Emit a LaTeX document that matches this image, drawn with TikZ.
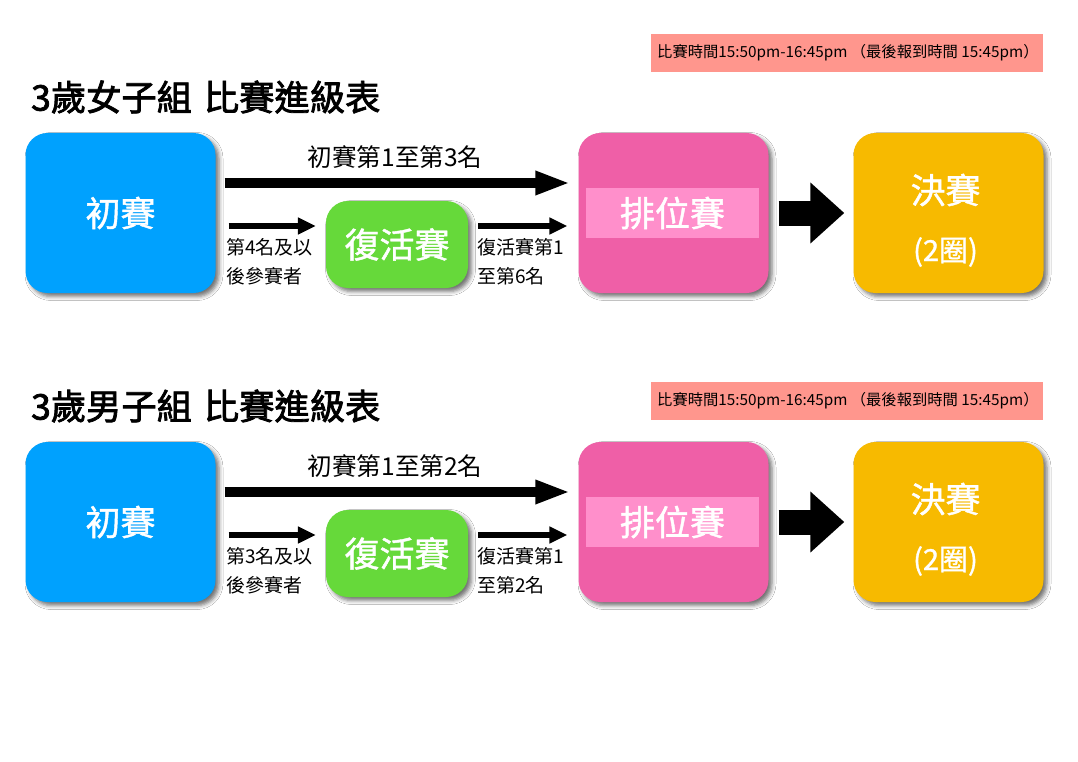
\documentclass[tikz,border=0pt]{standalone}
\usepackage{fontspec}
\setmainfont{Noto Sans CJK TC}
\newfontfamily\titlefont[FakeBold=2.2]{Noto Sans CJK TC}
\newfontfamily\boxfont[FakeBold=1.2]{Noto Sans CJK TC}
\usetikzlibrary{arrows.meta,shadows.blur}
\definecolor{cblue}{HTML}{00A1FE}
\definecolor{cgreen}{HTML}{66D93A}
\definecolor{cpink}{HTML}{EF5FA7}
\definecolor{cpinklight}{HTML}{FF8FCB}
\definecolor{cgold}{HTML}{F7BA00}
\definecolor{cred}{HTML}{FF968D}
\tikzset{
  box/.style={rectangle, rounded corners=22pt, inner sep=0pt, text=white,
    font=\boxfont\fontsize{35}{38}\selectfont,
    blur shadow={shadow xshift=3.5pt, shadow yshift=-3.5pt, shadow blur radius=4pt, shadow opacity=55}},
  bigbox/.style={box, minimum width=190pt, minimum height=160pt},
  strip/.style={rectangle, inner sep=0pt, fill=cpinklight, minimum width=173pt, minimum height=50pt,
    text=white, font=\boxfont\fontsize{35}{38}\selectfont},
  notebox/.style={rectangle, inner sep=0pt, fill=cred, minimum width=392pt, minimum height=38pt},
  notetext/.style={inner sep=0pt, anchor=west, font=\fontsize{15.3}{17}\selectfont},
  titletext/.style={inner sep=0pt, anchor=west, font=\titlefont\fontsize{35.3}{40}\selectfont},
  toplabel/.style={inner sep=0pt, font=\fontsize{24.6}{28}\selectfont},
  smalllabel/.style={inner sep=0pt, anchor=west, align=left, font=\fontsize{19}{29}\selectfont},
  whitetext/.style={inner sep=0pt, text=white},
  longarrow/.style={line width=10pt, -{Triangle[length=35pt,width=22pt]}},
  midarrow/.style={line width=6pt, -{Triangle[length=18pt,width=16pt]}},
  fatarrow/.style={line width=25pt, -{Triangle[length=34pt,width=59pt]}},
}
\newcommand{\racerow}[7]{%
  % #1 prefix, #2 dy, #3 title, #4 note y, #5 top label, #6 left small label, #7 right small label
  \node[notebox] (#1note) at (847,#4) {};
  \node[notetext] (#1notet) at (657,#4) {比賽時間15:50pm-16:45pm （最後報到時間 15:45pm）};
  \node[titletext] (#1title) at (31,97+#2) {3歲#3子組\hspace{4pt} 比賽進級表};
  \node[bigbox, fill=cblue] (#1a) at (120.5,213+#2) {初賽};
  \node[box, fill=cgreen, minimum width=142pt, minimum height=87pt] (#1r) at (397,244.5+#2) {復活賽};
  \node[bigbox, fill=cpink] (#1p) at (673.5,213+#2) {};
  \node[strip] (#1pl) at (672.5,213+#2) {排位賽};
  \node[bigbox, fill=cgold] (#1f) at (948.5,213+#2) {};
  \node[whitetext, font=\boxfont\fontsize{35}{38}\selectfont] (#1f1) at ([xshift=-3pt,yshift=23pt]#1f.center) {決賽};
  \node[whitetext, font=\boxfont\fontsize{29}{32}\selectfont] (#1f2) at ([xshift=-3pt,yshift=-39pt]#1f.center) {(2圈)};
  % arrows
  \coordinate (#1s0) at ([xshift=9pt,yshift=30pt]#1a.east);
  \draw[longarrow, shorten >=8pt] (#1s0) -- (#1s0 -| #1p.west);
  \node[toplabel] (#1tl) at (395,157+#2) {#5};
  \coordinate (#1s1) at ([xshift=13pt,yshift=-13pt]#1a.east);
  \draw[midarrow, shorten >=10pt] (#1s1) -- (#1s1 -| #1r.west);
  \node[smalllabel] (#1l1) at (226,261.5+#2) {#6};
  \coordinate (#1s2) at ([xshift=10pt,yshift=18.5pt]#1r.east);
  \draw[midarrow, shorten >=11pt] (#1s2) -- (#1s2 -| #1p.west);
  \node[smalllabel] (#1l2) at (477,261.5+#2) {#7};
  \coordinate (#1s3) at ([xshift=10pt]#1p.east);
  \draw[fatarrow, shorten >=9pt] (#1s3) -- (#1s3 -| #1f.west);
}
\begin{document}
\begin{tikzpicture}[x=1pt,y=-1pt]
  \path[use as bounding box, fill=white] (0,0) rectangle (1078,762);
  \racerow{u}{0}{女}{53}{初賽第1至第3名}{第4名及以\\後參賽者}{復活賽第1\\至第6名}
  \racerow{d}{309}{男}{400.5}{初賽第1至第2名}{第3名及以\\後參賽者}{復活賽第1\\至第2名}
\end{tikzpicture}
\end{document}
